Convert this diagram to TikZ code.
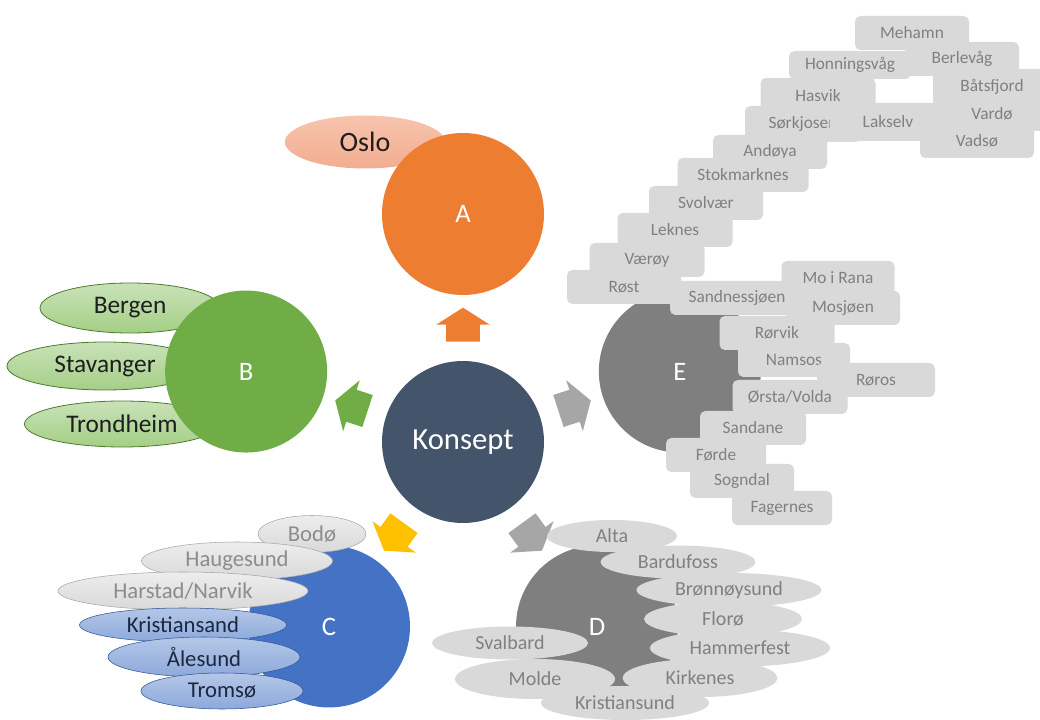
\documentclass[tikz,border=0pt]{standalone}
\usepackage{fontspec}
\setmainfont{Carlito}
\usetikzlibrary{calc,shapes.geometric,shapes.arrows}
\definecolor{konseptblue}{HTML}{44546A}
\definecolor{aorange}{HTML}{ED7D31}
\definecolor{oslosalmon}{HTML}{F2AD90}
\definecolor{oslopale}{HTML}{F7C4AE}
\definecolor{bgreen}{HTML}{70AD47}
\definecolor{bgreenlight}{HTML}{A4CF86}
\definecolor{bgreenpale}{HTML}{C9E2B8}
\definecolor{bgreendark}{HTML}{4E7A2F}
\definecolor{cblue}{HTML}{4472C4}
\definecolor{cbluelight}{HTML}{8DA9DB}
\definecolor{cbluepale}{HTML}{B4C7E7}
\definecolor{cbluedark}{HTML}{2F5597}
\definecolor{cyellow}{HTML}{FFC000}
\definecolor{dgray}{HTML}{7F7F7F}
\definecolor{boxgray}{HTML}{D9D9D9}
\definecolor{graypale}{HTML}{EDEDED}
\definecolor{graydraw}{HTML}{A6A6A6}
\definecolor{graytext}{HTML}{8C8C8C}
\definecolor{arrowgray}{HTML}{A6A6A6}
\definecolor{labelgray}{HTML}{808080}
\definecolor{inkblack}{HTML}{1E1E1E}
\definecolor{inknavy}{HTML}{1C2841}

\begin{document}
\begin{tikzpicture}[x=0.75pt, y=-0.75pt,
  wh/.style 2 args={minimum width=#1*0.75pt, minimum height=#2*0.75pt},
  hub/.style={circle, minimum size=121.5pt, inner sep=0pt, text=white, font=\fontsize{20}{24}\selectfont},
  spoke/.style={single arrow, minimum height=25.5pt, inner xsep=0pt, inner ysep=12.4pt, single arrow head extend=7.5pt, single arrow tip angle=115},
  town/.style={rectangle, rounded corners=4pt, fill=boxgray, text=labelgray, inner sep=0pt, font=\fontsize{13}{15}\selectfont},
  dcity/.style={ellipse, fill=boxgray, text=labelgray, inner sep=0pt, font=\fontsize{15}{18}\selectfont},
  bcity/.style={ellipse, draw=bgreendark, semithick, top color=bgreenpale, bottom color=bgreenlight, text=inkblack, inner sep=0pt, font=\fontsize{19}{23}\selectfont},
  ccity/.style={ellipse, draw=cbluedark, top color=cbluepale, bottom color=cbluelight, text=inknavy, inner sep=0pt, font=\fontsize{17}{20}\selectfont},
  cgray/.style={ellipse, draw=graydraw, top color=graypale, bottom color=boxgray, text=graytext, inner sep=0pt, font=\fontsize{17}{20}\selectfont}]
\useasboundingbox (0,0) rectangle (1040,720);
\node[hub, fill=konseptblue, font=\fontsize{23}{28}\selectfont] (K) at (463,442) {Konsept};
\foreach \a/\c in {90/aorange,162/bgreen,234/cyellow,306/arrowgray,18/arrowgray}
  \node[spoke, fill=\c, rotate=\a] (s\a) at ($(K)+(-\a:112)$) {};

\node[ellipse, top color=oslopale, bottom color=oslosalmon, inner sep=0pt, wh={160}{53}, text=inkblack, font=\fontsize{21}{25}\selectfont] (oslo) at (365,142) {Oslo};
\node[hub, fill=aorange] (A) at ($(K)+(-90:228)$) {A};

\node[bcity, wh={180}{50}] (bergen) at (130,308) {Bergen};
\node[bcity, wh={196}{48}] (stavanger) at (105,366) {Stavanger};
\node[bcity, wh={195}{46}] (trondheim) at (122,424) {Trondheim};
\node[hub, fill=bgreen] (B) at ($(K)+(-162:228)$) {B};

\node[hub, fill=cblue] (C) at ($(K)+(-234:228)$) {C};
\node[cgray, wh={108}{37}] (bodo) at (312,534) {Bodø};
\node[cgray, wh={191}{38}] (haugesund) at (237,561) {Haugesund};
\node[cgray, wh={250}{38}] (harstad) at (183,591) {Harstad/Narvik};
\node[ccity, wh={207}{34}] (kristiansand) at (183,625) {Kristiansand};
\node[ccity, wh={192}{40}] (alesund) at (204,657) {Ålesund};
\node[ccity, wh={162}{36}] (tromso) at (222,691) {Tromsø};

\node[hub, fill=dgray] (D) at ($(K)+(-306:228)$) {D};
\foreach \x/\y/\w/\h/\t [count=\i] in {612/536/130/32/Alta, 678/562/155/33/Bardufoss,
    729/590/185/34/Brønnøysund, 723/619/158/35/Florø, 740/648/180/37/Hammerfest,
    510/643/156/33/Svalbard, 535/679/160/40/Molde, 700/678/155/38/Kirkenes,
    625/703/168/34/Kristiansund}
  \node[dcity, wh={\w}{\h}] (d\i) at (\x,\y) {\t};

\node[hub, fill=dgray] (E) at ($(K)+(-18:228)$) {E};
\foreach \x/\y/\w/\h/\t [count=\i] in {912/33/114/34/Mehamn, 962/59/114/34/Berlevåg,
    992/87/118/36/Båtsfjord, 992/114/118/34/Vardø, 977/141/114/34/Vadsø,
    850/65/122/28/Honningsvåg, 818/96/115/36/Hasvik, 803/124/116/36/Sørkjosen,
    888/122/116/38/Lakselv, 770/152/114/34/Andøya, 743/175/131/34/Stokmarknes,
    706/203/114/34/Svolvær, 675/230/115/34/Leknes, 647/260/115/34/Værøy,
    624/287/114/34/Røst, 838/278/113/34/Mo i Rana, 737/298/134/34/Sandnessjøen,
    843/308/114/34/Mosjøen, 777/333/115/34/Rørvik, 794/360/112/34/Namsos,
    876/380/118/34/Røros, 790/397/115/34/{Ørsta/Volda}, 753/428/106/34/Sandane,
    716/455/100/34/Førde, 742/481/104/34/Sogndal, 782/508/100/34/Fagernes}
  \node[town, wh={\w}{\h}] (e\i) at (\x,\y) {\t};
\end{tikzpicture}
\end{document}
